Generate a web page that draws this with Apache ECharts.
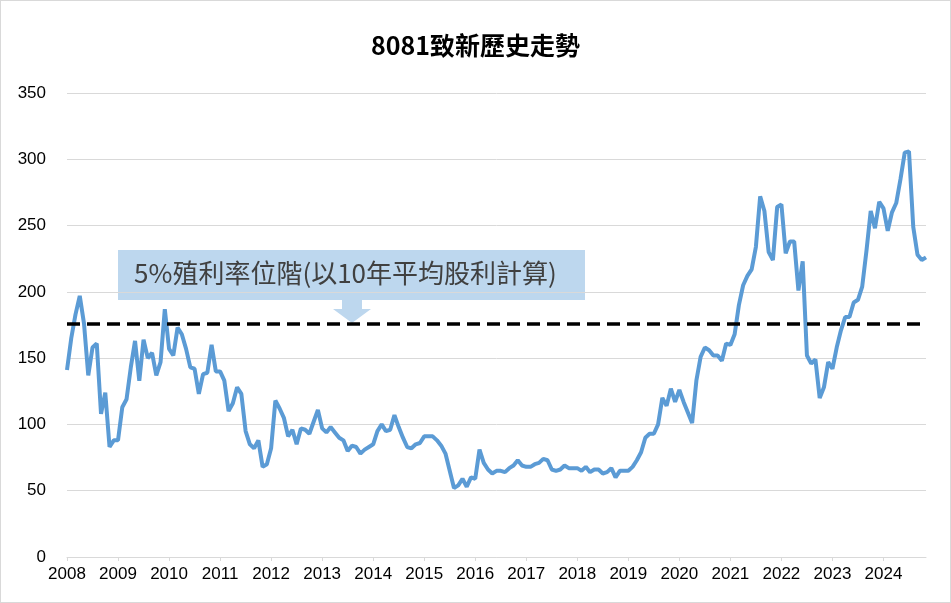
<!DOCTYPE html>
<html>
<head>
<meta charset="utf-8">
<script src="https://cdn.jsdelivr.net/npm/echarts@6/dist/echarts.min.js"></script>
<style>
  html, body { margin: 0; padding: 0; background: #fff; }
  #main { width: 949px; height: 601px; border: 1px solid #d9d9d9; }
</style>
</head>
<body>
<div id="main"></div>
<script>
// 年份 (x軸刻度)
var years = ['2008','2009','2010','2011','2012','2013','2014','2015','2016','2017','2018','2019','2020','2021','2022','2023','2024'];
// 2024 只到 11 月
var lastYearMonths = 11;

// 月股價
var price = [
  141,165,183,197,176,137,158,161,108,124,83,88,          // 2008
  88,113,119,143,163,133,164,150,154,137,147,187,         // 2009
  157,152,173,168,157,143,142,123,138,139,160,140,        // 2010
  140,133,110,116,128,123,95,85,82,88,68,70,              // 2011
  82,118,112,105,91,96,85,97,96,93,102,111,               // 2012
  97,94,98,94,90,88,80,84,83,78,81,83,                    // 2013
  85,95,100,95,96,107,98,90,83,82,85,86,                  // 2014
  91,91,91,88,84,78,65,52,54,59,53,60,                    // 2015
  59,81,71,66,63,65,65,64,67,69,73,69,                    // 2016
  68,68,70,71,74,73,66,65,66,69,67,67,                    // 2017
  67,65,68,64,66,66,63,64,67,60,65,65,                    // 2018
  65,68,73,79,90,93,93,100,120,114,127,117,               // 2019
  126,117,109,101,133,151,158,156,152,152,148,161,        // 2020
  160,168,190,205,212,217,234,272,261,230,224,264,        // 2021
  266,229,238,238,201,223,152,146,149,120,128,147,        // 2022
  142,158,171,181,181,192,194,204,231,261,248,268,        // 2023
  263,246,260,267,285,305,306,249,228,224,226             // 2024
];

// 5%殖利率位階
var yieldLevel = 176;
var noteText = '5%殖利率位階(以10年平均股利計算)';
var titleText = '8081致新歷史走勢';

var months = [];
years.forEach(function (y, i) {
  var n = (i === years.length - 1) ? lastYearMonths : 12;
  for (var m = 1; m <= n; m++) {
    months.push(y + '-' + (m < 10 ? '0' + m : m));
  }
});

function isYearStart(index) {
  return index % 12 === 0;
}

var myChart = echarts.init(document.getElementById('main'));

var option = {
  animation: false,
  title: {
    text: titleText,
    left: 'center',
    top: 27,
    textStyle: {
      fontFamily: 'Noto Sans CJK TC',
      fontSize: 25,
      fontWeight: 'bold',
      color: '#000'
    }
  },
  grid: {
    left: 66,
    right: 24,
    top: 92,
    bottom: 45
  },
  xAxis: {
    type: 'category',
    data: months,
    boundaryGap: false,
    axisLine: { lineStyle: { color: '#d9d9d9', width: 1 } },
    axisTick: {
      interval: function (index) { return isYearStart(index); },
      length: 4,
      lineStyle: { color: '#d9d9d9' }
    },
    axisLabel: {
      interval: function (index) { return isYearStart(index); },
      formatter: function (v) { return v.substring(0, 4); },
      fontFamily: 'Liberation Sans',
      fontSize: 17,
      color: '#000',
      margin: 9
    },
    splitLine: { show: false }
  },
  yAxis: {
    type: 'value',
    min: 0,
    max: 350,
    interval: 50,
    axisLine: { show: false },
    axisTick: { show: false },
    axisLabel: {
      fontFamily: 'Liberation Sans',
      fontSize: 17,
      color: '#000',
      margin: 21
    },
    splitLine: { lineStyle: { color: '#d9d9d9', width: 1 } }
  },
  series: [{
    type: 'line',
    data: price,
    symbol: 'none',
    lineStyle: { color: '#5b9bd5', width: 4 },
    markLine: {
      silent: true,
      symbol: 'none',
      label: { show: false },
      lineStyle: { color: '#000', width: 3.5, type: [13, 7] },
      data: [{ yAxis: yieldLevel }]
    },
    z: 3
  }],
  graphic: [
    {
      type: 'rect',
      shape: { x: 117, y: 249, width: 467, height: 50 },
      style: { fill: '#bdd7ee' }
    },
    {
      type: 'polygon',
      shape: { points: [[341, 299], [361, 299], [361, 308], [370, 308], [351, 322], [332, 308], [341, 308]] },
      style: { fill: '#bdd7ee' }
    },
    {
      type: 'text',
      left: 133,
      top: 259,
      style: {
        text: noteText,
        fill: '#404040',
        font: '26px "Noto Sans CJK TC"'
      }
    }
  ]
};

myChart.setOption(option);
</script>
</body>
</html>
